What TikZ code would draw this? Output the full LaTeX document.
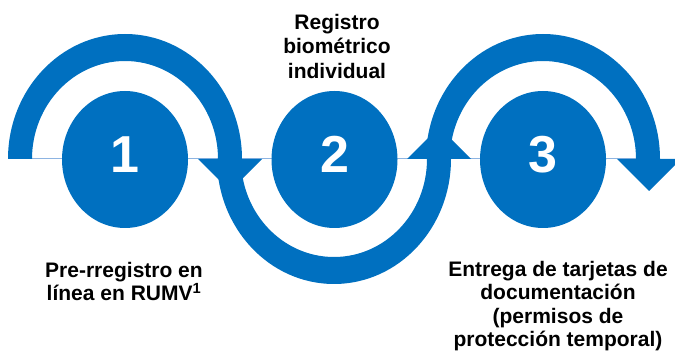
\documentclass[tikz,border=0pt]{standalone}
\usepackage{fontspec}
\setmainfont{Liberation Sans}
\usetikzlibrary{shapes.geometric}
\definecolor{mainblue}{HTML}{0070C0}
\definecolor{lineblue}{HTML}{8DB4E2}
\begin{document}
\begin{tikzpicture}[x=1pt,y=1pt,
  stepcircle/.style={ellipse, fill=mainblue, draw=none, minimum width=126pt, minimum height=137pt, inner sep=0pt},
  numtext/.style={text=white, font=\fontsize{52}{52}\selectfont\bfseries, inner sep=0pt},
  stepcaption/.style={align=center, font=\fontsize{21}{23.3}\selectfont\bfseries, inner sep=0pt},
  band/.style={fill=mainblue}
]
\useasboundingbox (0,0) rectangle (675,351);
\coordinate (lineL) at (20,192);
\coordinate (lineR) at (650,192);
\draw[lineblue, line width=1pt] (lineL) -- (lineR);
% arc over step 1
\fill[band] (8,192) arc[start angle=180, end angle=0, x radius=117, y radius=125]
  -- (218,192) arc[start angle=0, end angle=180, x radius=93, y radius=98] -- cycle;
% arc under step 2
\fill[band] (217,192) arc[start angle=180, end angle=360, x radius=117, y radius=125]
  -- (427,192) arc[start angle=360, end angle=180, x radius=93, y radius=98] -- cycle;
% arc over step 3
\fill[band] (426,192) arc[start angle=180, end angle=0, x radius=117, y radius=125]
  -- (636,192) arc[start angle=0, end angle=180, x radius=93, y radius=98] -- cycle;
% arrowheads
\fill[band] (198,192) -- (262,192) -- (230,160) -- cycle;
\fill[band] (407,192) -- (471,192) -- (439,224) -- cycle;
\fill[band] (617,192) -- (681,192) -- (649,160) -- cycle;
% circles
\node[stepcircle] (c1) at (125,191.5) {};
\node[stepcircle] (c2) at (334.5,191.5) {};
\node[stepcircle] (c3) at (543,191.5) {};
\node[numtext] (n1) at ([yshift=5pt]c1.center) {1};
\node[numtext] (n2) at ([yshift=5pt]c2.center) {2};
\node[numtext] (n3) at ([yshift=5pt]c3.center) {3};
% captions
\node[stepcaption, anchor=north, font=\fontsize{21}{24.5}\selectfont\bfseries] (t2) at (337,337) {Registro\\biométrico\\individual};
\node[stepcaption, anchor=north] (t1) at (124,89) {Pre-rregistro en\\línea en RUMV\textsuperscript{1}};
\node[stepcaption, anchor=north] (t3) at (558,90) {Entrega de tarjetas de\\documentación\\(permisos de\\protección temporal)};
\end{tikzpicture}
\end{document}
